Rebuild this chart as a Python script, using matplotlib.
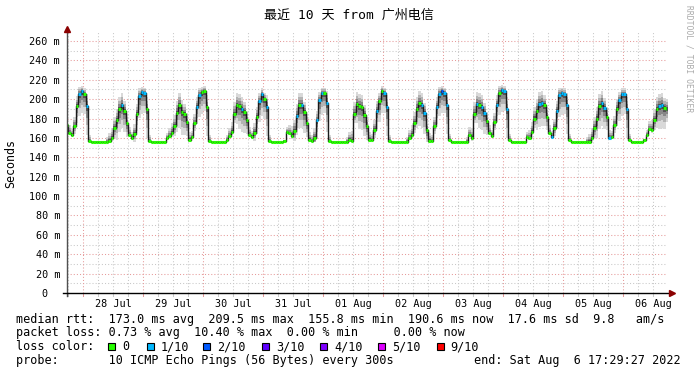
import datetime as dt
import numpy as np
import matplotlib
matplotlib.use("Agg")
import matplotlib.pyplot as plt
import matplotlib.dates as mdates
from matplotlib.patches import Rectangle

W, H = 697, 375
START = dt.datetime(2022, 7, 27, 17, 29, 27)
END = dt.datetime(2022, 8, 6, 17, 29, 27)
FIRST = dt.datetime(2022, 7, 27, 17, 0)      # first hourly sample

# hourly median rtt (ms), one list per calendar day
JUL27 = [173, 165, 163, 172, 193, 205, 208]   # 17h..23h
JUL28 = [205, 193, 157, 156, 156, 156, 156, 156, 156, 156, 157, 160,
         170, 178, 190, 194, 188, 175, 163, 160, 164, 185, 203, 207]
JUL29 = [206, 190, 157, 156, 156, 156, 156, 156, 156, 160, 162, 165,
         172, 186, 194, 187, 185, 176, 158, 161, 175, 192, 204, 207]
JUL30 = [208, 192, 157, 156, 156, 156, 156, 156, 156, 158, 162, 166,
         185, 194, 193, 190, 187, 178, 163, 161, 165, 182, 198, 205]
JUL31 = [200, 192, 157, 156, 156, 156, 156, 156, 157, 166, 165, 162,
         167, 183, 194, 194, 187, 175, 158, 157, 160, 178, 199, 206]
AUG01 = [206, 196, 157, 156, 156, 156, 156, 156, 156, 156, 158, 157,
         185, 195, 193, 192, 184, 172, 158, 158, 168, 188, 198, 208]
AUG02 = [206, 192, 157, 156, 156, 156, 156, 156, 156, 156, 160, 163,
         175, 190, 196, 194, 186, 168, 157, 157, 172, 192, 205, 208]
AUG03 = [206, 194, 158, 156, 156, 156, 156, 156, 156, 156, 163, 160,
         185, 195, 194, 192, 186, 177, 165, 162, 176, 194, 206, 209]
AUG04 = [208, 190, 158, 156, 156, 156, 156, 156, 156, 161, 160, 166,
         180, 188, 195, 196, 194, 182, 165, 161, 170, 188, 204, 206]
AUG05 = [205, 194, 158, 156, 156, 156, 156, 156, 156, 156, 156, 160,
         170, 180, 193, 196, 191, 182, 160, 161, 173, 190, 199, 205]
AUG06 = [205, 190, 158, 156, 156, 156, 156, 156, 158, 163, 169, 168,
         178, 190, 193, 194, 191, 190]                  # 0h..17h

# smoke extent above / below the median by hour of day (ms)
SMOKE_UP = [6, 12, 6, 1, 1, 1, 1, 1, 1, 5, 8, 10,
            12, 12, 12, 12, 10, 10, 8, 6, 10, 10, 8, 6]
SMOKE_DN = [20, 30, 1, 0.5, 0.5, 0.5, 0.5, 0.5, 0.5, 1, 2, 3,
            10, 20, 24, 24, 22, 14, 2, 2, 8, 18, 22, 22]

# hours with packet loss
LOSS_1 = ["07-27 22", "07-27 23", "07-28 01", "07-28 15", "07-28 22", "07-28 23",
          "07-29 00", "07-29 21", "07-29 22", "07-30 15", "07-30 22", "07-30 23",
          "07-31 01", "07-31 13", "07-31 15", "07-31 21", "07-31 22", "07-31 23",
          "08-01 01", "08-01 21", "08-02 00", "08-02 01", "08-02 15", "08-02 16",
          "08-02 21", "08-02 22", "08-03 00", "08-03 01", "08-03 13", "08-03 15",
          "08-03 16", "08-03 21", "08-03 23", "08-04 00", "08-04 01", "08-04 14",
          "08-04 15", "08-04 19", "08-04 21", "08-04 22", "08-04 23", "08-05 00",
          "08-05 01", "08-05 15", "08-05 16", "08-05 18", "08-05 22", "08-05 23",
          "08-06 00", "08-06 01", "08-06 14", "08-06 15"]
LOSS_2 = ["08-02 23"]

LOSS_LABELS = ["0", "1/10", "2/10", "3/10", "4/10", "5/10", "9/10"]
LOSS_COLORS = ["#26ff00", "#00b8ff", "#0059ff", "#5e00ff", "#7e00ff", "#dd00ff", "#ff0000"]

Y_TICKS = list(range(0, 261, 20))
DAYS = [dt.datetime(2022, 7, 28) + dt.timedelta(days=k) for k in range(10)]

TITLE = "最近 10 天 from 广州电信"
LEGEND = [
    "median rtt:  173.0 ms avg  209.5 ms max  155.8 ms min  190.6 ms now  17.6 ms sd  9.8   am/s",
    "packet loss: 0.73 % avg  10.40 % max  0.00 % min     0.00 % now",
    "loss color:",
    "probe:       10 ICMP Echo Pings (56 Bytes) every 300s",
]
END_TEXT = "end: Sat Aug  6 17:29:27 2022"

MONO = "DejaVu Sans Mono"
LEG_FS = 8.5


def px(x, y):
    return x / W, 1 - y / H


def main():
    med = np.array(JUL27 + JUL28 + JUL29 + JUL30 + JUL31 + AUG01 + AUG02
                   + AUG03 + AUG04 + AUG05 + AUG06, dtype=float)
    times = [FIRST + dt.timedelta(hours=i) for i in range(len(med))]
    hrs = np.array([t.hour for t in times])
    up = np.array(SMOKE_UP)[hrs]
    dn = np.array(SMOKE_DN)[hrs]
    lost = {}
    for s in LOSS_1:
        lost[s] = 1
    for s in LOSS_2:
        lost[s] = 2
    loss = np.array([lost.get(t.strftime("%m-%d %H"), 0) for t in times])

    te = mdates.date2num(times + [times[-1] + dt.timedelta(hours=1)])
    ext = lambda a: np.append(a, a[-1])

    fig = plt.figure(figsize=(W / 100, H / 100), dpi=100)
    fig.patch.set_facecolor("white")
    ax = fig.add_axes([67 / W, (H - 293) / H, 600 / W, 261.7 / H])
    ax.set_xlim(START, END)
    ax.set_ylim(0, 270)
    for s in ax.spines.values():
        s.set_visible(False)

    # grid
    dot = (0, (1, 2))
    for v in range(10, 260, 20):
        ax.axhline(v, color="#c8c8c8", lw=0.75, ls=dot, zorder=0)
    for v in Y_TICKS[1:]:
        ax.axhline(v, color="#e69a9a", lw=0.75, ls=dot, zorder=0)
    t = dt.datetime(2022, 7, 27, 18)
    while t < END:
        major = t.hour == 0
        ax.axvline(t, color="#e69a9a" if major else "#c8c8c8", lw=0.75, ls=dot, zorder=0)
        ax.plot([t, t], [0, -3.2], color="#e69a9a" if major else "#c8c8c8",
                lw=0.75, clip_on=False, zorder=0)
        t += dt.timedelta(hours=6)

    # smoke
    for f, c in zip([1.0, 0.66, 0.4, 0.18], ["#d9d9d9", "#b3b3b3", "#878787", "#545454"]):
        lo = np.maximum(med - f * dn, 155.6)
        hi = med + f * up
        ax.fill_between(te, ext(lo), ext(hi), step="post", color=c, lw=0, zorder=2)
    ax.step(te, ext(med), where="post", color="#1a1a1a", lw=1.0, zorder=3)
    t0 = mdates.date2num(times)
    ax.hlines(med, t0, t0 + 1 / 24, colors=[LOSS_COLORS[k] for k in loss], lw=2.2, zorder=4)

    # axes with arrows
    ax.plot([0, 0], [-0.012, 1.0], transform=ax.transAxes, color="#505050", lw=1, clip_on=False, zorder=5)
    ax.plot([-0.007, 1.005], [0, 0], transform=ax.transAxes, color="black", lw=1, clip_on=False, zorder=5)
    ax.plot([0], [1.01], transform=ax.transAxes, marker="^", ms=5, color="#8b0000", clip_on=False, zorder=6)
    ax.plot([1.008], [0], transform=ax.transAxes, marker=">", ms=5, color="#8b0000", clip_on=False, zorder=6)

    ax.set_yticks(Y_TICKS)
    ax.set_yticklabels([f"{v} m" if v else "0  " for v in Y_TICKS], family=MONO, fontsize=7.3)
    ax.set_xticks([d + dt.timedelta(hours=12) for d in DAYS])
    ax.set_xticklabels([d.strftime("%d %b") for d in DAYS], family=MONO, fontsize=7.3)
    ax.tick_params(axis="both", length=0)
    ax.tick_params(axis="y", pad=5)
    ax.tick_params(axis="x", pad=4)

    fig.text(*px(348.5, 15), TITLE, ha="center", va="center", fontsize=9.4,
             family=[MONO, "Noto Sans CJK SC"])
    fig.text(*px(11, 163), "Seconds", rotation=90, ha="center", va="center",
             family=MONO, fontsize=8.4)
    fig.text(*px(689, 5), "RRDTOOL / TOBI OETIKER", rotation=270, ha="center", va="top",
             family=MONO, fontsize=5.8, color="#aaaaaa")

    ys = [319.3, 332.7, 346.7, 360.7]
    for y, s in zip(ys, LEGEND):
        fig.text(*px(16, y), s, ha="left", va="center", family=MONO, fontsize=LEG_FS)
    fig.text(*px(681, ys[3]), END_TEXT, ha="right", va="center", family=MONO, fontsize=LEG_FS)
    box_x = [108, 146.7, 203, 261.7, 320, 378, 436.7]
    for bx, lab, col in zip(box_x, LOSS_LABELS, LOSS_COLORS):
        x0, y0 = px(bx, ys[2] + 3.5)
        fig.add_artist(Rectangle((x0, y0), 7 / W, 7 / H, transform=fig.transFigure,
                                 facecolor=col, edgecolor="black", lw=0.8))
        fig.text(*px(bx + 14, ys[2]), lab, ha="left", va="center", family=MONO, fontsize=LEG_FS)

    fig.savefig("out.png", dpi=100)


if __name__ == "__main__":
    main()
